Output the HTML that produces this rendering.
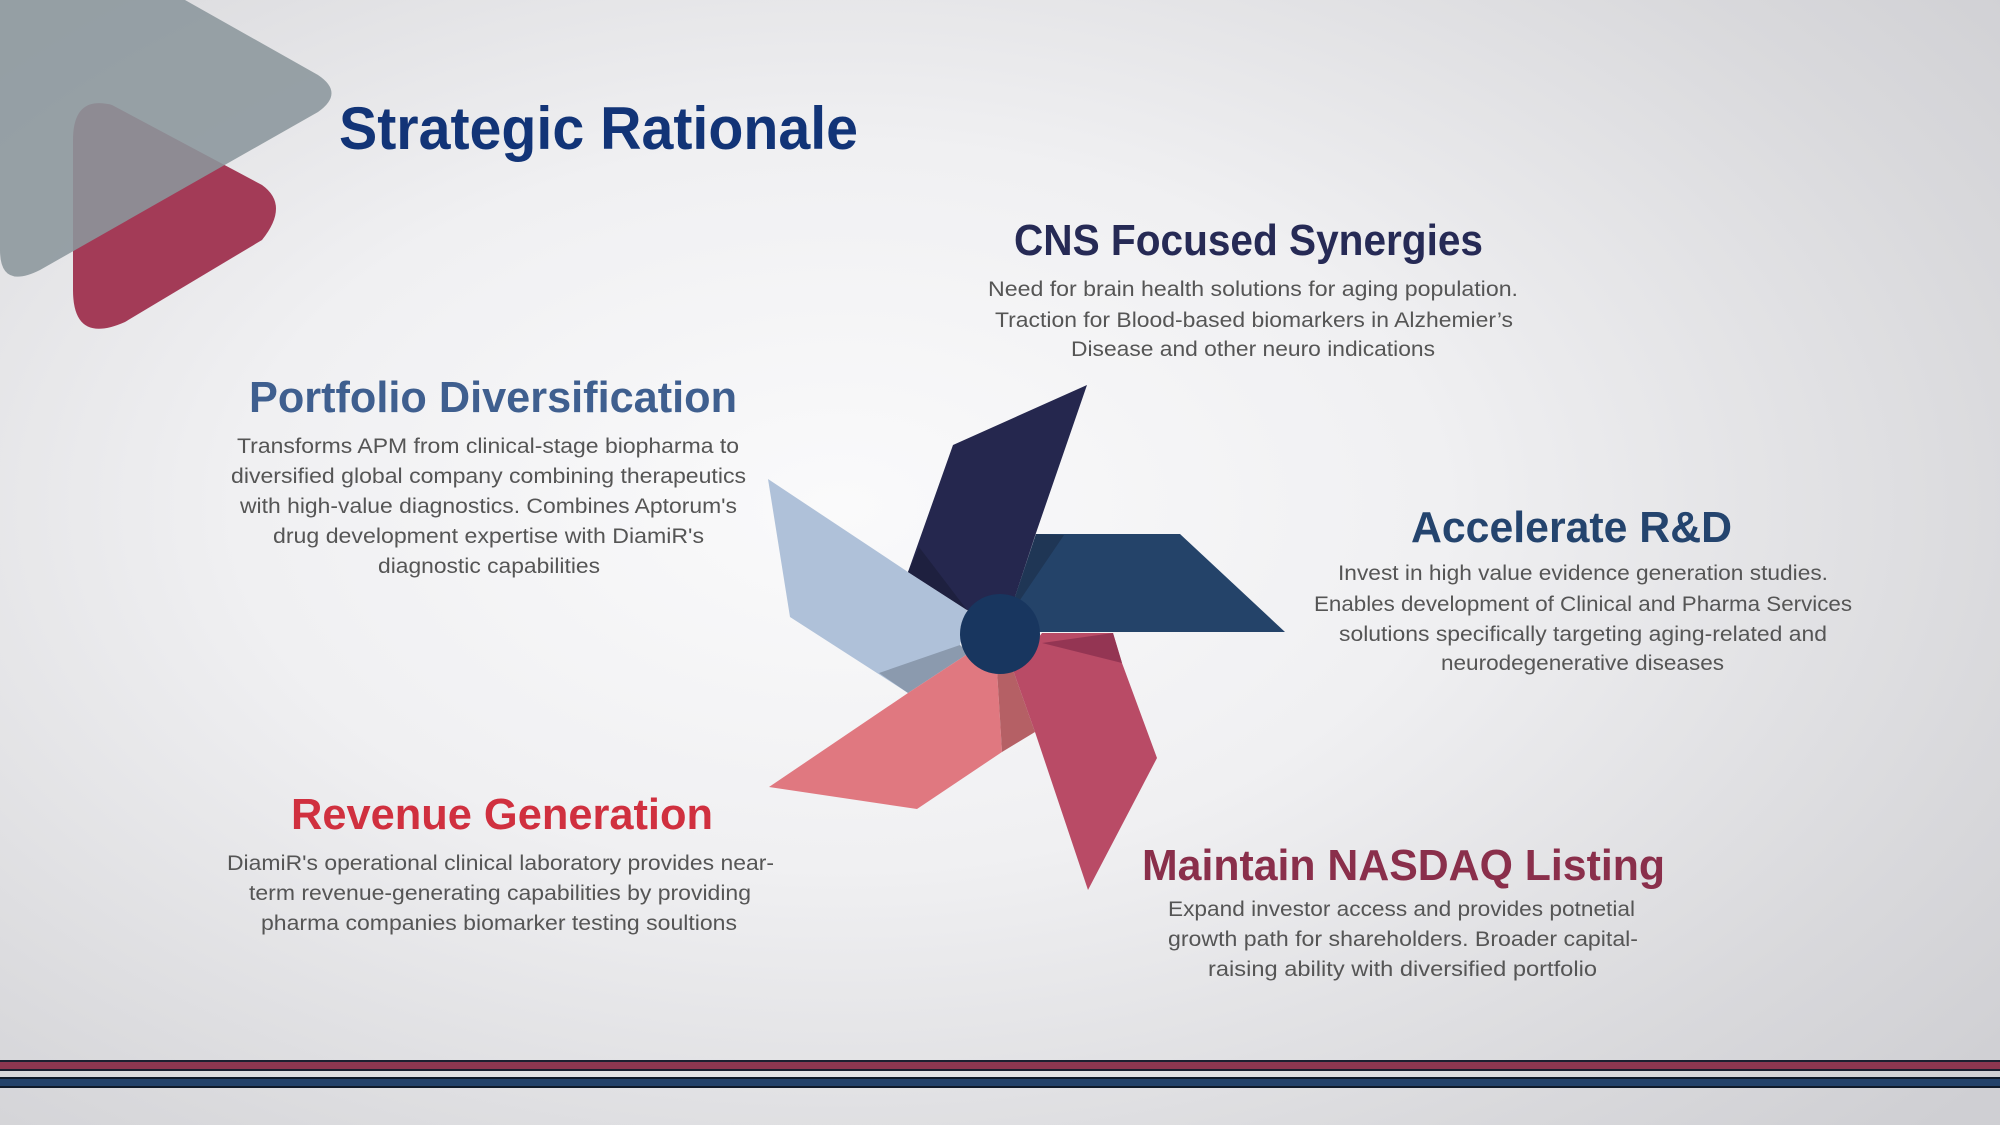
<!DOCTYPE html>
<html><head><meta charset="utf-8"><style>
html,body{margin:0;padding:0;width:2000px;height:1125px;overflow:hidden}
body{background:radial-gradient(ellipse 75% 80% at 42% 45%,#fafafb 0%,#f0f0f2 40%,#d9d9dc 80%,#cfcfd3 100%)}
svg{position:absolute;left:0;top:0}
text{font-family:"Liberation Sans",sans-serif}
.h{font-weight:bold;font-size:44px}
.b{font-size:21px;fill:#555}
</style></head><body>
<svg width="2000" height="1125" viewBox="0 0 2000 1125">
<!-- logo -->
<path d="M73,140 Q73,95 112,105 L262,185 Q290,205 262,240 L125,322 Q73,345 73,290 Z" fill="#a33b57"/>
<path d="M0,0 L185,0 L318,75 Q345,93 318,112 L40,270 Q0,290 0,250 Z" fill="#8b969c" fill-opacity="0.88"/>
<text x="339" y="149" font-weight="bold" font-size="60" fill="#123477" textLength="519" lengthAdjust="spacingAndGlyphs">Strategic Rationale</text>

<!-- pinwheel -->
<polygon points="768,479 908,572 967,610 960,645 908,693 790,617" fill="#afc1d9"/>
<polygon points="879,673 960,645 969,653 908,693" fill="#8b9aae"/>
<polygon points="953,445 1087,385 1036,533 1015,597 1000,633 967,610 908,572" fill="#25274e"/>
<polygon points="919,547 967,610 908,572" fill="#1e203f"/>
<polygon points="1036,534 1180,534 1285,632 1042,632 1000,633 1015,597" fill="#244369"/>
<polygon points="1036,534 1064,535 1020,600 1015,597" fill="#1f3655"/>
<polygon points="969,653 997,670 1002,752 917,809 769,787 908,693" fill="#e07880"/>
<polygon points="997,670 1013,670 1035,732 1002,752" fill="#b56065"/>
<polygon points="1042,633 1113,633 1122,663 1157,758 1088,890 1035,732 1013,670" fill="#b94b66"/>
<polygon points="1042,643 1113,633 1122,663" fill="#943553"/>
<circle cx="1000" cy="634" r="40" fill="#18365f"/>

<!-- CNS -->
<text class="h" x="1014" y="255" fill="#262a55" textLength="469" lengthAdjust="spacingAndGlyphs">CNS Focused Synergies</text>
<text class="b" x="988" y="296" textLength="530" lengthAdjust="spacingAndGlyphs">Need for brain health solutions for aging population.</text>
<text class="b" x="995" y="327" textLength="518" lengthAdjust="spacingAndGlyphs">Traction for Blood-based biomarkers in Alzhemier’s</text>
<text class="b" x="1071" y="356" textLength="364" lengthAdjust="spacingAndGlyphs">Disease and other neuro indications</text>

<!-- Portfolio -->
<text class="h" x="249" y="412" fill="#3f5f8f" textLength="488" lengthAdjust="spacingAndGlyphs">Portfolio Diversification</text>
<text class="b" x="237" y="453" textLength="502" lengthAdjust="spacingAndGlyphs">Transforms APM from clinical-stage biopharma to</text>
<text class="b" x="231" y="483" textLength="515" lengthAdjust="spacingAndGlyphs">diversified global company combining therapeutics</text>
<text class="b" x="240" y="513" textLength="497" lengthAdjust="spacingAndGlyphs">with high-value diagnostics. Combines Aptorum's</text>
<text class="b" x="273" y="543" textLength="431" lengthAdjust="spacingAndGlyphs">drug development expertise with DiamiR's</text>
<text class="b" x="378" y="573" textLength="222" lengthAdjust="spacingAndGlyphs">diagnostic capabilities</text>

<!-- Accelerate -->
<text class="h" x="1411" y="542" fill="#24446e" textLength="321" lengthAdjust="spacingAndGlyphs">Accelerate R&amp;D</text>
<text class="b" x="1338" y="580" textLength="490" lengthAdjust="spacingAndGlyphs">Invest in high value evidence generation studies.</text>
<text class="b" x="1314" y="611" textLength="538" lengthAdjust="spacingAndGlyphs">Enables development of Clinical and Pharma Services</text>
<text class="b" x="1339" y="641" textLength="488" lengthAdjust="spacingAndGlyphs">solutions specifically targeting aging-related and</text>
<text class="b" x="1441" y="670" textLength="283" lengthAdjust="spacingAndGlyphs">neurodegenerative diseases</text>

<!-- Revenue -->
<text class="h" x="291" y="829" fill="#d0303f" textLength="422" lengthAdjust="spacingAndGlyphs">Revenue Generation</text>
<text class="b" x="227" y="870" textLength="547" lengthAdjust="spacingAndGlyphs">DiamiR's operational clinical laboratory provides near-</text>
<text class="b" x="249" y="900" textLength="502" lengthAdjust="spacingAndGlyphs">term revenue-generating capabilities by providing</text>
<text class="b" x="261" y="930" textLength="476" lengthAdjust="spacingAndGlyphs">pharma companies biomarker testing soultions</text>

<!-- NASDAQ -->
<text class="h" x="1142" y="880" fill="#8a2f4b" textLength="523" lengthAdjust="spacingAndGlyphs">Maintain NASDAQ Listing</text>
<text class="b" x="1168" y="916" textLength="467" lengthAdjust="spacingAndGlyphs">Expand investor access and provides potnetial</text>
<text class="b" x="1168" y="946" textLength="470" lengthAdjust="spacingAndGlyphs">growth path for shareholders. Broader capital-</text>
<text class="b" x="1208" y="976" textLength="389" lengthAdjust="spacingAndGlyphs">raising ability with diversified portfolio</text>

<!-- bottom bars -->
<rect x="-2" y="1061" width="2004" height="9" fill="#8c3650" stroke="#1a1f30" stroke-width="2"/>
<rect x="-2" y="1078" width="2004" height="9" fill="#23426a" stroke="#0f1a2a" stroke-width="2"/>
</svg>
</body></html>
